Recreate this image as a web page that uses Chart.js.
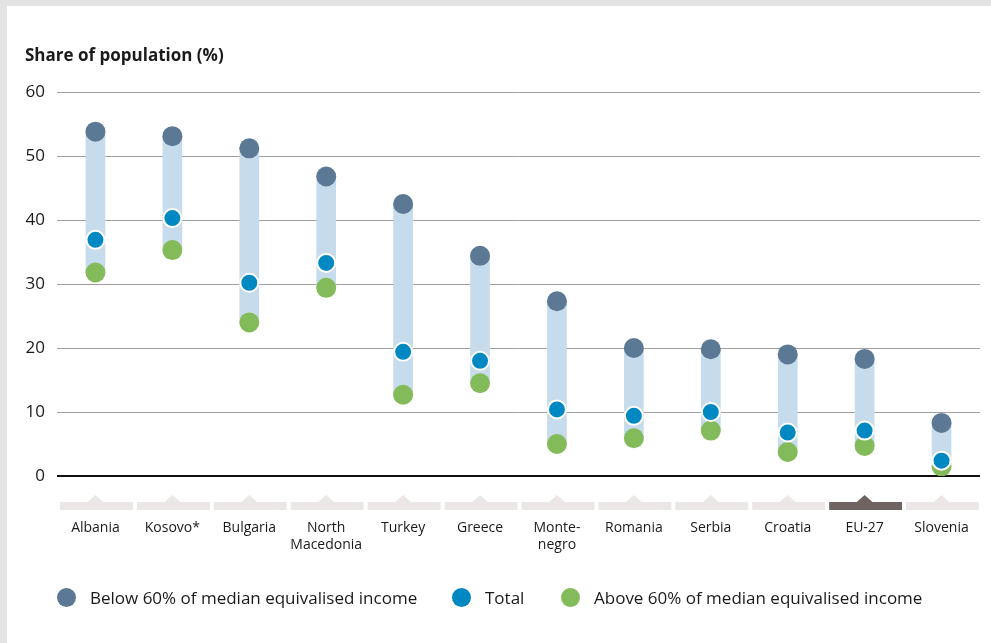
<!DOCTYPE html>
<html>
<head>
<meta charset="utf-8">
<script src="https://cdn.jsdelivr.net/npm/chart.js@4"></script>
<style>
  body { margin: 0; background: #e3e3e3; font-family: "Open Sans", sans-serif; }
  #frame { position: absolute; left: 7px; top: 6px; width: 984px; height: 637px; background: #fff; }
  #chart { position: absolute; left: 0; top: 0; }
  #title { position: absolute; left: 18px; top: 37px; font-size: 17px; font-weight: bold; color: #1a1a1a; }
  .leg { position: absolute; top: 580px; font-size: 17px; color: #1a1a1a; white-space: nowrap; }
  .leg span { display: inline-block; width: 19px; height: 19px; border-radius: 50%; vertical-align: middle; margin-right: 14px; position: relative; top: -2px; }
</style>
</head>
<body>
<div id="frame">
  <canvas id="chart" width="984" height="637"></canvas>
  <div id="title">Share of population (%)</div>
  <div class="leg" style="left:50px"><span style="background:#5b7895"></span>Below 60% of median equivalised income</div>
  <div class="leg" style="left:445px"><span style="background:#0088c2"></span>Total</div>
  <div class="leg" style="left:554px"><span style="background:#84bb5a"></span>Above 60% of median equivalised income</div>
</div>
<script>
const countries = ["Albania", "Kosovo*", "Bulgaria", ["North", "Macedonia"], "Turkey", "Greece",
  ["Monte-", "negro"], "Romania", "Serbia", "Croatia", "EU-27", "Slovenia"];
const below = [53.8, 53.1, 51.2, 46.8, 42.5, 34.4, 27.3, 20.0, 19.8, 19.0, 18.3, 8.3];
const total = [36.9, 40.3, 30.2, 33.3, 19.4, 18.0, 10.4, 9.4, 10.0, 6.8, 7.1, 2.4];
const above = [31.8, 35.3, 24.0, 29.4, 12.7, 14.5, 5.0, 5.9, 7.1, 3.75, 4.7, 1.5];
const yTicks = [0, 10, 20, 30, 40, 50, 60];
const highlight = "EU-27";

// grey tabs with a little peak under every category
const tabs = {
  id: "tabs",
  afterDraw(chart) {
    const ctx = chart.ctx;
    const x = chart.scales.x;
    const w = chart.chartArea.width / countries.length;
    countries.forEach((c, i) => {
      const cx = x.getPixelForValue(i);
      ctx.fillStyle = c === highlight ? "#6f6462" : "#ebe7e6";
      ctx.fillRect(cx - w / 2 + 3, 496, w - 4, 8);
      ctx.beginPath();
      ctx.moveTo(cx - 9, 497);
      ctx.lineTo(cx, 489);
      ctx.lineTo(cx + 9, 497);
      ctx.fill();
    });
  }
};

new Chart(document.getElementById("chart"), {
  type: "bar",
  data: {
    labels: countries,
    datasets: [
      {
        type: "line", data: total, showLine: false, order: 1,
        pointRadius: 9, pointBackgroundColor: "#0088c2",
        pointBorderColor: "#fff", pointBorderWidth: 2
      },
      {
        type: "line", data: below, showLine: false, order: 2,
        pointRadius: 10, pointBackgroundColor: "#5b7895", pointBorderWidth: 0
      },
      {
        type: "line", data: above, showLine: false, order: 3,
        pointRadius: 10, pointBackgroundColor: "#84bb5a", pointBorderWidth: 0
      },
      {
        data: above.map((a, i) => [a, below[i]]), order: 4,
        backgroundColor: "#c6dbeb", barThickness: 19, borderSkipped: false
      }
    ]
  },
  options: {
    responsive: false,
    animation: false,
    layout: { padding: { top: 86, right: 11, bottom: 37, left: 0 } },
    plugins: { legend: { display: false }, tooltip: { enabled: false } },
    scales: {
      x: {
        // invisible tick marks push the labels below the tabs
        grid: { display: false, drawTicks: true, tickLength: 41 },
        border: { display: false },
        ticks: { color: "#1a1a1a", font: { family: "Open Sans", size: 14 }, padding: 3, maxRotation: 0, autoSkip: false },
        afterFit(s) { s.height = 130; }
      },
      y: {
        min: 0, max: 60,
        afterBuildTicks(s) { s.ticks = yTicks.map(v => ({ value: v })); },
        grid: {
          color: c => c.tick.value === 0 ? "#111" : "#a0a0a0",
          lineWidth: c => c.tick.value === 0 ? 2 : 1,
          drawTicks: false
        },
        border: { display: false },
        ticks: { color: "#1a1a1a", font: { family: "Open Sans", size: 17 }, padding: 12 },
        afterFit(s) { s.width = 50; }
      }
    }
  },
  plugins: [tabs]
});
</script>
</body>
</html>
